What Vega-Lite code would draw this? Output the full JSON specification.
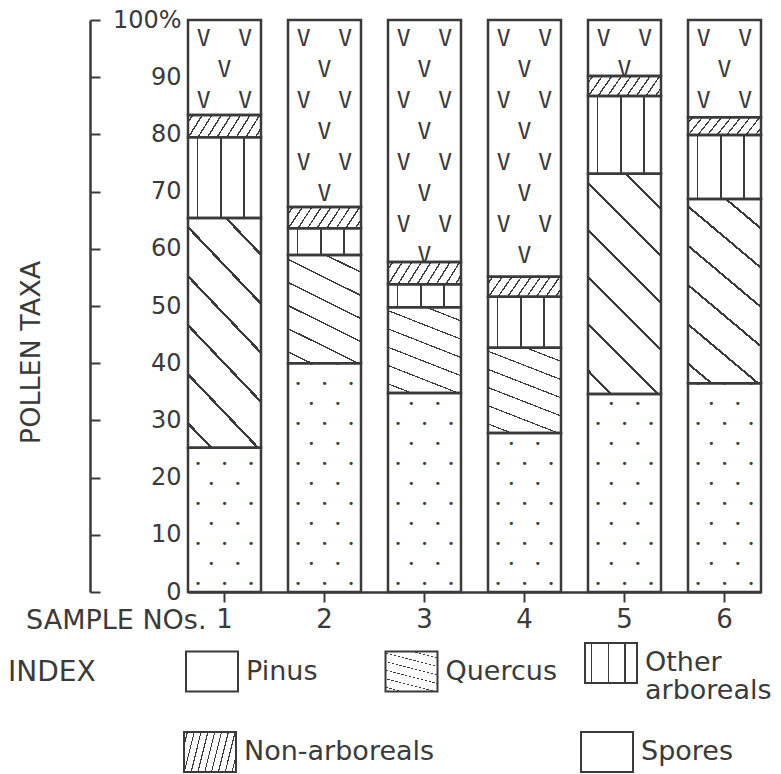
{
  "$schema": "https://vega.github.io/schema/vega-lite/v6.json",
  "autosize": {"type": "none"},
  "padding": {"left": 188, "top": 20, "right": 20, "bottom": 182},
  "width": 573,
  "height": 572,
  "background": "white",
  "config": {
    "view": {"stroke": null},
    "font": "DejaVu Sans",
    "legend": {"padding": 0}
  },
  "data": {
    "values": [
      {"sample": "1", "taxon": "Pinus", "pct": 25.2},
      {"sample": "1", "taxon": "Quercus", "pct": 40.2},
      {"sample": "1", "taxon": "Other arboreals", "pct": 14.1},
      {"sample": "1", "taxon": "Non-arboreals", "pct": 3.9},
      {"sample": "1", "taxon": "Spores", "pct": 16.6},
      {"sample": "2", "taxon": "Pinus", "pct": 40.0},
      {"sample": "2", "taxon": "Quercus", "pct": 18.9},
      {"sample": "2", "taxon": "Other arboreals", "pct": 4.7},
      {"sample": "2", "taxon": "Non-arboreals", "pct": 3.7},
      {"sample": "2", "taxon": "Spores", "pct": 32.7},
      {"sample": "3", "taxon": "Pinus", "pct": 34.8},
      {"sample": "3", "taxon": "Quercus", "pct": 15.0},
      {"sample": "3", "taxon": "Other arboreals", "pct": 4.0},
      {"sample": "3", "taxon": "Non-arboreals", "pct": 3.9},
      {"sample": "3", "taxon": "Spores", "pct": 42.3},
      {"sample": "4", "taxon": "Pinus", "pct": 27.8},
      {"sample": "4", "taxon": "Quercus", "pct": 14.9},
      {"sample": "4", "taxon": "Other arboreals", "pct": 8.9},
      {"sample": "4", "taxon": "Non-arboreals", "pct": 3.5},
      {"sample": "4", "taxon": "Spores", "pct": 44.9},
      {"sample": "5", "taxon": "Pinus", "pct": 34.6},
      {"sample": "5", "taxon": "Quercus", "pct": 38.5},
      {"sample": "5", "taxon": "Other arboreals", "pct": 13.6},
      {"sample": "5", "taxon": "Non-arboreals", "pct": 3.5},
      {"sample": "5", "taxon": "Spores", "pct": 9.8},
      {"sample": "6", "taxon": "Pinus", "pct": 36.5},
      {"sample": "6", "taxon": "Quercus", "pct": 32.2},
      {"sample": "6", "taxon": "Other arboreals", "pct": 11.2},
      {"sample": "6", "taxon": "Non-arboreals", "pct": 3.1},
      {"sample": "6", "taxon": "Spores", "pct": 17.0}
    ]
  },
  "transform": [
    {"calculate": "indexof(['Pinus','Quercus','Other arboreals','Non-arboreals','Spores'], datum.taxon)", "as": "k"},
    {"stack": "pct", "groupby": ["sample"], "sort": [{"field": "k", "order": "ascending"}], "as": ["y0", "y1"]}
  ],
  "encoding": {
    "x": {
      "field": "sample", "type": "nominal",
      "scale": {"paddingInner": 0.27, "paddingOuter": 0},
      "axis": {
        "title": "SAMPLE NOs.", "titleX": 18, "titleY": 28, "titleAlign": "right", "titleBaseline": "middle",
        "titleAngle": 0, "titleFontSize": 27, "titleFontWeight": "normal", "titleColor": "#3a3a3a",
        "labelAngle": 0, "labelFontSize": 26, "labelColor": "#3a3a3a", "labelPadding": 4,
        "tickSize": 10, "tickColor": "#3a3a3a", "tickWidth": 2,
        "domainColor": "#3a3a3a", "domainWidth": 2.5, "grid": false
      }
    }
  },
  "layer": [
    {
      "transform": [{"filter": "datum.taxon === 'Spores'"}],
      "mark": {
        "type": "text", "font": "DejaVu Sans Mono", "fontSize": 23, "lineHeight": 31,
        "baseline": "top", "align": "center", "dy": 8, "color": "#3a3a3a",
        "text": ["V\u00a0\u00a0V", "V", "V\u00a0\u00a0V", "V", "V\u00a0\u00a0V", "V", "V\u00a0\u00a0V", "V", "V\u00a0\u00a0V"]
      },
      "encoding": {
        "y": {"field": "y1", "type": "quantitative", "scale": {"domain": [0, 100], "nice": false, "zero": true},
          "axis": {
            "title": "POLLEN TAXA", "offset": 98, "tickSize": -10,
            "values": [0, 10, 20, 30, 40, 50, 60, 70, 80, 90, 100],
            "labelExpr": "datum.value == 100 ? '100%' : datum.label + '\u2003'",
            "labelAlign": "right", "labelBaseline": "middle", "labelPadding": -81,
            "labelFontSize": 24, "labelColor": "#3a3a3a",
            "domainColor": "#3a3a3a", "domainWidth": 2.5, "tickColor": "#3a3a3a", "tickWidth": 2,
            "grid": false,
            "titleX": -59, "titleY": 332, "titleAngle": -90, "titleAlign": "center", "titleBaseline": "middle",
            "titleFontSize": 27, "titleFontWeight": "normal", "titleColor": "#3a3a3a"
          }
        }
      }
    },
    {
      "transform": [{"filter": "datum.taxon === 'Pinus'"}],
      "mark": {
        "type": "text", "font": "DejaVu Sans Mono", "fontSize": 11, "lineHeight": 20,
        "baseline": "bottom", "align": "center", "color": "#3a3a3a", "dy": -243,
        "text": ["\u2022\u00a0\u00a0\u00a0\u2022\u00a0\u00a0\u00a0\u2022", "\u2022\u00a0\u00a0\u00a0\u2022", "\u2022\u00a0\u00a0\u00a0\u2022\u00a0\u00a0\u00a0\u2022", "\u2022\u00a0\u00a0\u00a0\u2022", "\u2022\u00a0\u00a0\u00a0\u2022\u00a0\u00a0\u00a0\u2022", "\u2022\u00a0\u00a0\u00a0\u2022", "\u2022\u00a0\u00a0\u00a0\u2022\u00a0\u00a0\u00a0\u2022", "\u2022\u00a0\u00a0\u00a0\u2022", "\u2022\u00a0\u00a0\u00a0\u2022\u00a0\u00a0\u00a0\u2022", "\u2022\u00a0\u00a0\u00a0\u2022", "\u2022\u00a0\u00a0\u00a0\u2022\u00a0\u00a0\u00a0\u2022", "\u2022\u00a0\u00a0\u00a0\u2022", "\u2022\u00a0\u00a0\u00a0\u2022\u00a0\u00a0\u00a0\u2022"]
      },
      "encoding": {
        "y": {"field": "y0", "type": "quantitative"}
      }
    },
    {
      "transform": [{"filter": "datum.taxon === 'Quercus' || datum.taxon === 'Other arboreals'"}],
      "mark": {"type": "bar", "strokeWidth": 0},
      "encoding": {
        "y": {"field": "y0", "type": "quantitative"},
        "y2": {"field": "y1"},
        "color": {
          "field": "taxon", "type": "nominal",
          "scale": {
            "domain": ["Pinus", "Quercus", "Other arboreals"],
            "range": [
              "white",
              {"expr": "{gradient:'linear',x1:0,y1:1,x2:0.4,y2:-0.2,stops:[{offset:0,color:'white'},{offset:0.0745,color:'white'},{offset:0.0745,color:'#3a3a3a'},{offset:0.0855,color:'#3a3a3a'},{offset:0.0855,color:'white'},{offset:0.2345,color:'white'},{offset:0.2345,color:'#3a3a3a'},{offset:0.2455,color:'#3a3a3a'},{offset:0.2455,color:'white'},{offset:0.3945,color:'white'},{offset:0.3945,color:'#3a3a3a'},{offset:0.4055,color:'#3a3a3a'},{offset:0.4055,color:'white'},{offset:0.5545,color:'white'},{offset:0.5545,color:'#3a3a3a'},{offset:0.5655,color:'#3a3a3a'},{offset:0.5655,color:'white'},{offset:0.7145,color:'white'},{offset:0.7145,color:'#3a3a3a'},{offset:0.7255,color:'#3a3a3a'},{offset:0.7255,color:'white'},{offset:0.8745,color:'white'},{offset:0.8745,color:'#3a3a3a'},{offset:0.8855,color:'#3a3a3a'},{offset:0.8855,color:'white'},{offset:1,color:'white'}]}"},
              {"expr": "{gradient:'linear',x1:0,y1:0,x2:1,y2:0,stops:[{offset:0,color:'white'},{offset:0.119,color:'white'},{offset:0.119,color:'#3a3a3a'},{offset:0.141,color:'#3a3a3a'},{offset:0.141,color:'white'},{offset:0.439,color:'white'},{offset:0.439,color:'#3a3a3a'},{offset:0.461,color:'#3a3a3a'},{offset:0.461,color:'white'},{offset:0.759,color:'white'},{offset:0.759,color:'#3a3a3a'},{offset:0.781,color:'#3a3a3a'},{offset:0.781,color:'white'},{offset:1,color:'white'}]}"}
            ]
          },
          "legend": {
            "orient": "none", "legendX": -180, "legendY": 622,
            "direction": "horizontal", "columns": 3, "gridAlign": "all", "columnPadding": 8.5,
            "title": "INDEX", "titleOrient": "left", "titleAnchor": "middle", "titleBaseline": "middle",
            "titleFontSize": 28, "titleFontWeight": "normal", "titleColor": "#3a3a3a", "titlePadding": 89,
            "symbolType": "M-1.3,-1H1.3V1H-1.3Z", "symbolSize": 1600, "symbolOffset": 6,
            "symbolStrokeColor": "#3a3a3a", "symbolStrokeWidth": 2, "symbolOpacity": 1,
            "labelFontSize": 27, "labelColor": "#3a3a3a", "labelOffset": 13, "labelLimit": 300,
            "labelExpr": "datum.label == 'Other arboreals' ? ['Other', 'arboreals'] : datum.label",
            "encode": {"labels": {"update": {"lineHeight": {"value": 28}}}}
          }
        }
      }
    },
    {
      "transform": [{"filter": "datum.taxon === 'Non-arboreals'"}],
      "mark": {"type": "bar", "strokeWidth": 0},
      "encoding": {
        "y": {"field": "y0", "type": "quantitative"},
        "y2": {"field": "y1"},
        "fill": {
          "field": "taxon", "type": "nominal",
          "scale": {
            "domain": ["Non-arboreals", "Spores"],
            "range": [
              {"expr": "{gradient:'linear',x1:0,y1:0,x2:1.15,y2:0.22,stops:[{offset:0,color:'white'},{offset:0.046,color:'white'},{offset:0.046,color:'#3a3a3a'},{offset:0.064,color:'#3a3a3a'},{offset:0.064,color:'white'},{offset:0.156,color:'white'},{offset:0.156,color:'#3a3a3a'},{offset:0.174,color:'#3a3a3a'},{offset:0.174,color:'white'},{offset:0.266,color:'white'},{offset:0.266,color:'#3a3a3a'},{offset:0.284,color:'#3a3a3a'},{offset:0.284,color:'white'},{offset:0.376,color:'white'},{offset:0.376,color:'#3a3a3a'},{offset:0.394,color:'#3a3a3a'},{offset:0.394,color:'white'},{offset:0.486,color:'white'},{offset:0.486,color:'#3a3a3a'},{offset:0.504,color:'#3a3a3a'},{offset:0.504,color:'white'},{offset:0.596,color:'white'},{offset:0.596,color:'#3a3a3a'},{offset:0.614,color:'#3a3a3a'},{offset:0.614,color:'white'},{offset:0.706,color:'white'},{offset:0.706,color:'#3a3a3a'},{offset:0.724,color:'#3a3a3a'},{offset:0.724,color:'white'},{offset:0.816,color:'white'},{offset:0.816,color:'#3a3a3a'},{offset:0.834,color:'#3a3a3a'},{offset:0.834,color:'white'},{offset:0.926,color:'white'},{offset:0.926,color:'#3a3a3a'},{offset:0.944,color:'#3a3a3a'},{offset:0.944,color:'white'},{offset:1,color:'white'}]}"},
              "white"
            ]
          },
          "legend": {
            "orient": "none", "legendX": -5, "legendY": 711,
            "direction": "horizontal", "columns": 2, "gridAlign": "all", "columnPadding": 142,
            "title": null,
            "symbolType": "M-1.3,-1H1.3V1H-1.3Z", "symbolSize": 1600, "symbolOffset": 6,
            "symbolStrokeColor": "#3a3a3a", "symbolStrokeWidth": 2, "symbolOpacity": 1,
            "labelFontSize": 27, "labelColor": "#3a3a3a", "labelOffset": 13, "labelLimit": 300
          }
        }
      }
    },
    {
      "mark": {"type": "bar", "fill": "transparent", "stroke": "#3a3a3a", "strokeWidth": 2.5},
      "encoding": {
        "y": {"field": "y0", "type": "quantitative"},
        "y2": {"field": "y1"}
      }
    }
  ]
}
